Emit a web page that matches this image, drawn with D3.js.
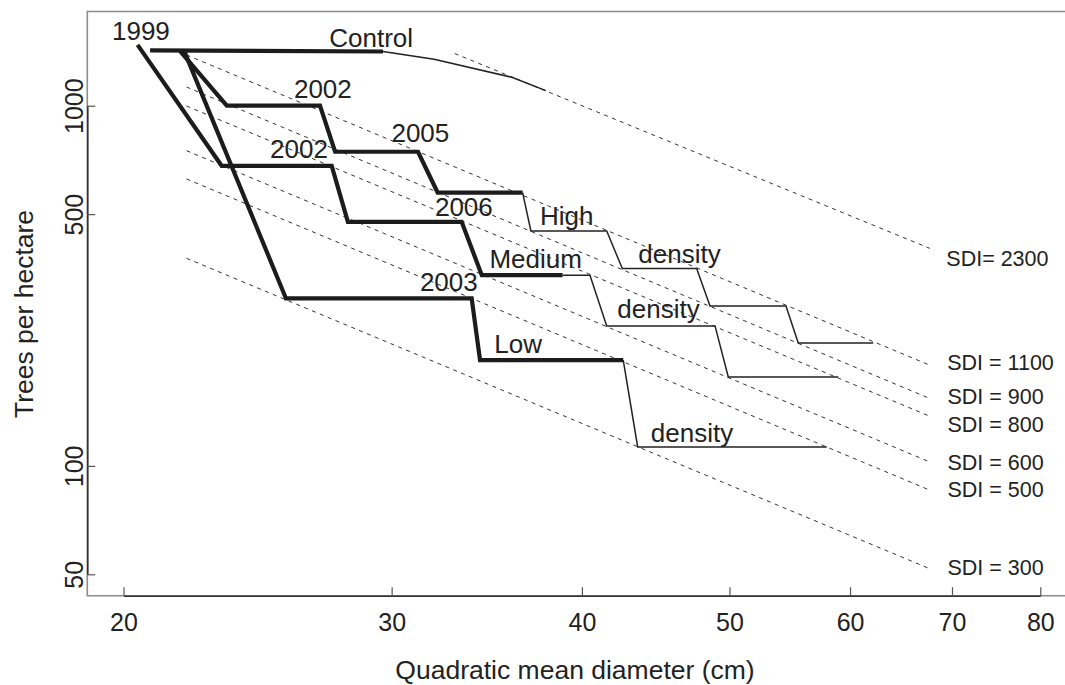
<!DOCTYPE html>
<html><head><meta charset="utf-8">
<script src="https://cdn.jsdelivr.net/npm/d3@7"></script>
<style>
body{margin:0;background:#fff}
svg{display:block}
text{font-family:"Liberation Sans",Arial,Helvetica,sans-serif;fill:#222}
</style>
</head><body>
<svg id="chart" width="1065" height="685"></svg>
<script>
// ---- data ----
const xTicks = [20, 30, 40, 50, 60, 70, 80];
const yTicks = [50, 100, 500, 1000];

const controlThick = [[20.82,1425],[29.61,1414]];
const controlThin  = [[29.61,1414],[31.99,1346],[35.98,1199],[37.88,1101]];

const highThick = [[21.78,1420],[23.38,1000],[26.92,1000],[27.54,745],[31.22,745],[32.16,574],[36.57,574]];
const highThin  = [[36.57,574],[37.03,449],[41.53,449],[42.52,353],[47.58,353],[48.55,278],[54.46,278],[55.48,219.5],[62.14,219.5]];

const mediumThick = [[20.43,1475],[23.20,681],[27.40,681],[28.08,476],[33.35,476],[34.38,338.5],[38.85,338.5]];
const mediumThin  = [[38.85,338.5],[40.49,338.5],[41.53,244.7],[48.92,244.7],[49.91,176.6],[58.94,176.6]];

const lowThick = [[21.92,1420],[25.57,291.6],[33.86,291.6],[34.29,196.5],[42.58,196.5]];
const lowThin  = [[42.58,196.5],[43.52,112.9],[57.92,112.9]];

// SDI reference lines: [D start, N start, D end, N end]
const sdiValues = [2300, 1100, 900, 800, 600, 500, 300];
const sdiLines = [
  [33.0,1396, 67.7,401.6],
  [22.0,1383, 67.7,190.3],
  [22.0,1127, 67.7,153.8],
  [22.0, 998, 67.7,137.3],
  [22.0, 750, 67.7,102.5],
  [22.0, 626, 67.7, 85.6],
  [22.0, 377, 67.7, 51.8]
];
const sdiLabels = ["SDI= 2300","SDI = 1100","SDI = 900","SDI = 800","SDI = 600","SDI = 500","SDI = 300"];
const sdiLabelPos = [[69.4,358.6],[69.5,185.0],[69.52,148.6],[69.52,124.2],[69.52,97.6],[69.52,81.8],[69.52,49.85]];

const annoText = ["1999","Control","2002","2002","2005","2006","High","Medium","density","density","2003","Low","density"];
const annoPos = [[19.655,1522.5],[27.30,1453],[25.88,1048.5],[24.96,714.2],[29.99,794.3],[32.03,493.8],
                 [37.54,466.1],[34.78,353.3],[43.56,366.2],[42.20,256.6],[31.31,305.6],[35.04,205.9],[44.39,116.5]];

// ---- chart ----
const svg = d3.select("#chart");
svg.append("rect").attr("width",1065).attr("height",685).attr("fill","#fff");

const x = d3.scaleLog().domain([20, 80]).range([123.5, 1040.3]);
const y = d3.scaleLog().domain([1000, 50]).range([105.7, 574.3]);

const L = 87.3, T = 11.5, B = 595.7, R = 1066;

// frame
svg.append("path")
  .attr("d", `M${R},${T}H${L}V${B}H${R}`)
  .attr("fill","none").attr("stroke","#8c8c8c").attr("stroke-width",1.6);

// SDI dashed lines
svg.append("g").selectAll("line").data(sdiLines).join("line")
  .attr("x1", d => x(d[0])).attr("y1", d => y(d[1]))
  .attr("x2", d => x(d[2])).attr("y2", d => y(d[3]))
  .attr("stroke","#333").attr("stroke-width",1).attr("stroke-dasharray","4,4.5");

svg.append("g").selectAll("text").data(sdiLabels).join("text")
  .attr("x", (d,i) => x(sdiLabelPos[i][0]))
  .attr("y", (d,i) => y(sdiLabelPos[i][1]))
  .attr("font-size", 21.5)
  .text(d => d);

// paths
const line = d3.line().x(d => x(d[0])).y(d => y(d[1]));
const thin = [controlThin, highThin, mediumThin, lowThin];
const thick = [controlThick, highThick, mediumThick, lowThick];
svg.append("g").selectAll("path").data(thin).join("path")
  .attr("d", line).attr("fill","none").attr("stroke","#222")
  .attr("stroke-width",1.5).attr("stroke-linejoin","miter");
svg.append("g").selectAll("path").data(thick).join("path")
  .attr("d", line).attr("fill","none").attr("stroke","#1c1c1c")
  .attr("stroke-width",4.2).attr("stroke-linejoin","miter").attr("stroke-miterlimit",3);

// annotations
svg.append("g").selectAll("text").data(annoText).join("text")
  .attr("x", (d,i) => x(annoPos[i][0]))
  .attr("y", (d,i) => y(annoPos[i][1]))
  .attr("font-size", 26)
  .text(d => d);

// axes
const xAxis = svg.append("g").attr("transform", `translate(0,${B})`)
  .call(d3.axisBottom(x).tickValues(xTicks).tickSize(-8.5).tickSizeOuter(0).tickFormat(d3.format("d")));
xAxis.select(".domain").attr("stroke","#333").attr("stroke-width",1.6);
xAxis.selectAll(".tick line").attr("stroke","#555").attr("stroke-width",1.2);
xAxis.selectAll(".tick text").attr("y",35.3).attr("dy",null)
  .attr("font-size",25).attr("fill","#222").attr("font-family",null);

const yAxis = svg.append("g").attr("transform", `translate(${L},0)`)
  .call(d3.axisLeft(y).tickValues(yTicks).tickSize(-8).tickSizeOuter(0).tickFormat(d3.format("d")));
yAxis.select(".domain").attr("stroke","#333").attr("stroke-width",1.6);
yAxis.selectAll(".tick line").attr("stroke","#555").attr("stroke-width",1.2);
yAxis.selectAll(".tick text").attr("x",0).attr("dy",null)
  .attr("transform","translate(-4.8,0) rotate(-90)")
  .attr("text-anchor","middle")
  .attr("font-size",25).attr("fill","#222").attr("font-family",null);
xAxis.attr("font-family",null); yAxis.attr("font-family",null);

// axis titles
svg.append("text").attr("x",575).attr("y",678.5).attr("text-anchor","middle")
  .attr("font-size",26.5).text("Quadratic mean diameter (cm)");
svg.append("text").attr("transform","translate(33,314) rotate(-90)").attr("text-anchor","middle")
  .attr("font-size",26.5).text("Trees per hectare");
</script>
</body></html>
